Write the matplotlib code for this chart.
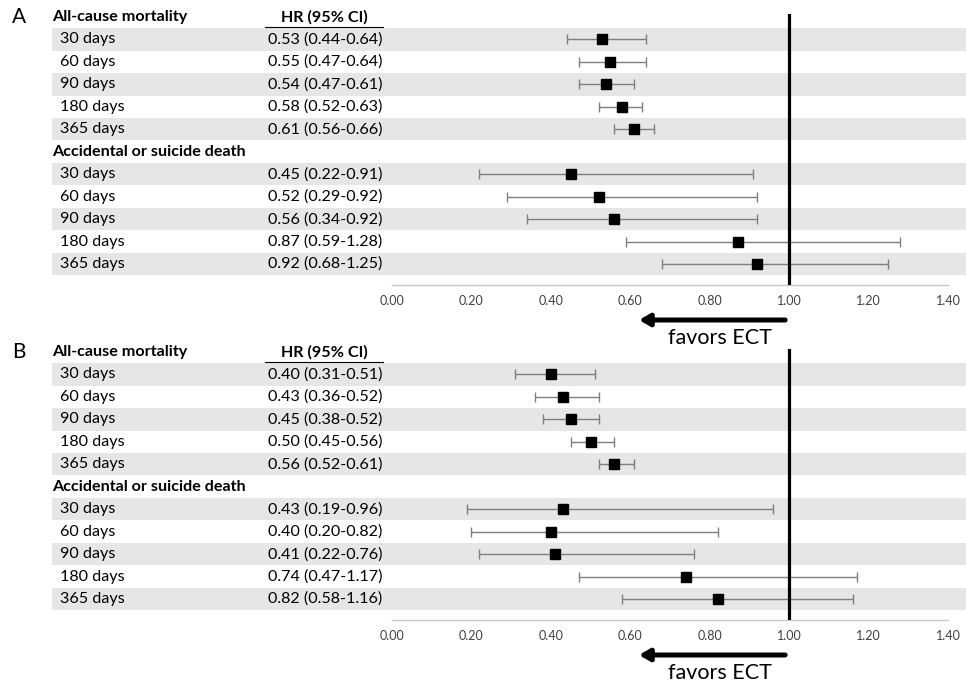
import matplotlib
matplotlib.use("Agg")
import matplotlib.pyplot as plt
from matplotlib.transforms import blended_transform_factory
from matplotlib.patches import Rectangle

plt.rcParams['font.family'] = ['Lato', 'DejaVu Sans']

# data
periods = ['30 days', '60 days', '90 days', '180 days', '365 days']
groups = ['All-cause mortality', 'Accidental or suicide death']

a_all_hr = [0.53, 0.55, 0.54, 0.58, 0.61]
a_all_lo = [0.44, 0.47, 0.47, 0.52, 0.56]
a_all_hi = [0.64, 0.64, 0.61, 0.63, 0.66]
a_acc_hr = [0.45, 0.52, 0.56, 0.87, 0.92]
a_acc_lo = [0.22, 0.29, 0.34, 0.59, 0.68]
a_acc_hi = [0.91, 0.92, 0.92, 1.28, 1.25]

b_all_hr = [0.40, 0.43, 0.45, 0.50, 0.56]
b_all_lo = [0.31, 0.36, 0.38, 0.45, 0.52]
b_all_hi = [0.51, 0.52, 0.52, 0.56, 0.61]
b_acc_hr = [0.43, 0.40, 0.41, 0.74, 0.82]
b_acc_lo = [0.19, 0.20, 0.22, 0.47, 0.58]
b_acc_hi = [0.96, 0.82, 0.76, 1.17, 1.16]

xticks = [0.0, 0.2, 0.4, 0.6, 0.8, 1.0, 1.2, 1.4]

W, H = 966, 685
fig = plt.figure(figsize=(W / 100, H / 100), dpi=100)

shade = '#e6e6e6'
row_h = 22.45
fs = 11.6


def panel(letter, y0, hr_sets):
    # y0 = pixel row of the first header line
    top_px = y0 - 3
    bot_px = y0 + 268
    ylo = (bot_px - y0) / row_h
    yhi = (top_px - y0) / row_h
    ax = fig.add_axes([392 / W, 1 - bot_px / H, 556 / W, (bot_px - top_px) / H])
    ax.set_xlim(0, 1.4)
    ax.set_ylim(ylo, yhi)
    ax.patch.set_alpha(0)
    for s in ['top', 'left', 'right']:
        ax.spines[s].set_visible(False)
    ax.spines['bottom'].set_color('#c8c8c8')
    ax.spines['bottom'].set_linewidth(1.0)
    ax.set_yticks([])
    ax.set_xticks(xticks)
    ax.set_xticklabels(['%.2f' % t for t in xticks])
    ax.tick_params(axis='x', length=0, pad=7, labelsize=9, labelcolor='#404040')

    tr = blended_transform_factory(fig.transFigure, ax.transData)

    rows = []
    for g, (hr, lo, hi) in zip(groups, hr_sets):
        rows.append((g, None, None, None))
        for p, h, l, u in zip(periods, hr, lo, hi):
            rows.append((p, h, l, u))

    for i, (lab, h, l, u) in enumerate(rows):
        if i % 2 == 1:
            ax.add_patch(Rectangle((52 / W, i - 0.5), 1 - 52 / W, 1, transform=tr,
                                   facecolor=shade, edgecolor='none', zorder=0,
                                   clip_on=False))
        if h is None:
            ax.text(52 / W, i, lab, transform=tr, fontsize=fs, fontweight='bold',
                    va='center', ha='left', color='black')
        else:
            ax.text(60 / W, i, lab, transform=tr, fontsize=fs,
                    va='center', ha='left', color='black')
            ax.text(268 / W, i, '%.2f (%.2f-%.2f)' % (h, l, u), transform=tr,
                    fontsize=fs, va='center', ha='left', color='black')
            ax.errorbar(h, i, xerr=[[h - l], [u - h]], fmt='none', ecolor='#7f7f7f',
                        elinewidth=1.0, capsize=3.5, capthick=1.0, zorder=2)
            ax.plot(h, i, marker='s', color='black', markersize=7, zorder=3)

    ax.text(324 / W, 0, 'HR (95% CI)', transform=tr, fontsize=fs,
            fontweight='bold', ha='center', va='center')
    ax.plot([265 / W, 383 / W], [0.43, 0.43], transform=tr, color='black',
            linewidth=0.8, clip_on=False)
    ax.text(12 / W, 0, letter, transform=tr, fontsize=15, ha='left', va='center')

    ax.axvline(1.0, color='black', linewidth=2.3, zorder=4)

    # arrow under the axis
    ay = ylo + 35 / row_h
    ax.annotate('', xy=(0.622, ay), xytext=(0.99, ay), annotation_clip=False,
                arrowprops=dict(arrowstyle='-|>,head_length=0.6,head_width=0.35',
                                color='black', lw=3.6, shrinkA=0, shrinkB=0))
    ax.text(0.826, ylo + 53 / row_h, 'favors ECT', fontsize=15.5, ha='center',
            va='center', clip_on=False)
    return ax


panel('A', 17, [(a_all_hr, a_all_lo, a_all_hi), (a_acc_hr, a_acc_lo, a_acc_hi)])
panel('B', 352, [(b_all_hr, b_all_lo, b_all_hi), (b_acc_hr, b_acc_lo, b_acc_hi)])

fig.savefig('out.png', dpi=100)
